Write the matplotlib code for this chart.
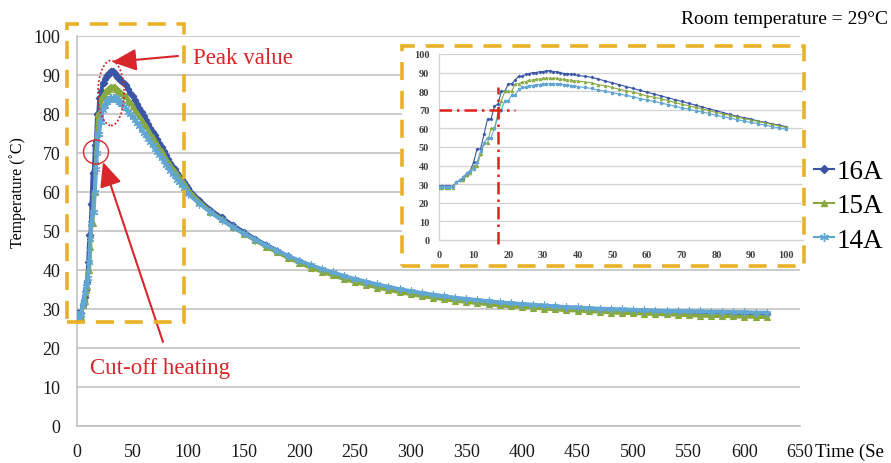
import matplotlib
matplotlib.use("Agg")
import matplotlib.pyplot as plt
from matplotlib.patches import Rectangle, Ellipse
from matplotlib.lines import Line2D
from matplotlib.transforms import IdentityTransform

# ---------------- data ----------------
time_s = (list(range(0, 41)) + list(range(42, 101, 2)) + list(range(110, 621, 10)))

temp_16A = [29, 29, 29, 29, 29, 31, 32, 33, 35, 37, 42, 49, 49, 57, 65, 65, 72, 73, 80, 80,
            84, 84, 86, 88, 88, 89, 89.5, 90, 90, 90.5, 90.5, 91, 91, 90.5, 90.5, 90, 89.5, 89.5, 89, 89, 88.5,
            88, 87.5, 86.5, 85.5, 84.5, 83.5, 82.5, 81.5, 80.5, 79.5, 78.5, 77.5, 76.5, 75.5, 74.5,
            73.5, 72.5, 71.5, 70.5, 69.5, 68.5, 67.5, 66.5, 65.8, 65, 64, 63.3, 62.5, 61.8, 61,
            58, 55.5, 53.5, 51.5, 49.8, 48, 46.5, 45, 43.5, 42.2, 41, 40, 39, 38.2, 37.4, 36.7,
            36, 35.4, 34.8, 34.3, 33.8, 33.4, 33, 32.6, 32.3, 32, 31.7, 31.4, 31.2, 31, 30.8, 30.6,
            30.4, 30.2, 30.1, 30, 29.8, 29.7, 29.6, 29.5, 29.4, 29.3, 29.2, 29.1, 29, 29, 28.9,
            28.8, 28.8, 28.7, 28.7, 28.6]

temp_15A = [28, 28, 28, 28, 28, 31, 32, 32, 35, 36, 40, 40, 46, 52, 52, 60, 60, 68, 75, 80,
            80, 80, 84, 84, 85, 85, 86, 86, 86.5, 86.5, 87, 87, 87, 87, 87, 86.5, 86.5, 86, 86, 85.5, 85.5,
            85, 84.5, 83.5, 83, 82, 81, 80.3, 79.5, 78.5, 77.5, 76.8, 76, 75, 74, 73,
            72.2, 71.3, 70.5, 69.5, 68.5, 67.8, 67, 66, 65.3, 64.5, 63.8, 63, 62.2, 61.5, 60.5,
            57.5, 55, 53, 51, 49.3, 47.6, 46, 44.5, 43.1, 41.8, 40.6, 39.6, 38.6, 37.7, 36.9, 36.2,
            35.5, 34.9, 34.3, 33.8, 33.3, 32.9, 32.5, 32.1, 31.8, 31.5, 31.2, 30.9, 30.7, 30.5, 30.3, 30.1,
            29.9, 29.7, 29.6, 29.4, 29.3, 29.1, 29, 28.9, 28.8, 28.7, 28.6, 28.5, 28.4, 28.3, 28.2,
            28.2, 28.1, 28, 28, 27.9]

temp_14A = [28.5, 28.5, 28.5, 28.5, 28.5, 31, 32, 34, 36, 37, 38, 42, 48, 52, 55, 55, 60, 66, 70, 75,
            75, 78, 78, 81, 82, 82, 83, 83, 83.5, 83.5, 84, 84, 84, 84, 84, 84, 83.5, 83.5, 83, 83, 82.5,
            82, 81.5, 80.5, 80, 79.2, 78.5, 77.8, 77, 76, 75.2, 74.5, 73.7, 72.8, 72, 71,
            70.3, 69.5, 68.8, 68, 67, 66.3, 65.5, 64.7, 64, 63.2, 62.5, 61.8, 61, 60.3, 59.5,
            57, 54.8, 52.8, 51, 49.4, 47.8, 46.3, 44.9, 43.6, 42.4, 41.3, 40.3, 39.4, 38.5, 37.7, 37,
            36.3, 35.7, 35.1, 34.6, 34.1, 33.7, 33.3, 32.9, 32.6, 32.3, 32, 31.7, 31.5, 31.3, 31.1, 30.9,
            30.7, 30.5, 30.4, 30.2, 30.1, 30, 29.9, 29.8, 29.7, 29.6, 29.5, 29.5, 29.4, 29.4, 29.3,
            29.3, 29.2, 29.2, 29.1, 29.1]

series_labels = ["16A", "15A", "14A"]
main_xticks = list(range(0, 651, 50))
main_yticks = list(range(0, 101, 10))
inset_xticks = list(range(0, 101, 10))
inset_yticks = list(range(0, 101, 10))
cutoff_time = 17
cutoff_temp = 70

# ---------------- style ----------------
plt.rcParams['font.family'] = ['Liberation Serif', 'DejaVu Serif']
W, H = 891, 464
RED = '#D9262B'
ORANGE = '#E8B128'
colors = ['#3A55A6', '#87A93F', '#62A6D3']
markers = ['D', '^', (6, 2, 0)]
msizes = [3.4, 4.4, 5.8]

fig = plt.figure(figsize=(W / 100, H / 100), dpi=100)

# ---------------- main axes ----------------
ax = fig.add_axes([77 / W, 37 / H, 723 / W, 390 / H])
series = [temp_16A, temp_15A, temp_14A]
for vals, c, m, ms, lab in zip(series, colors, markers, msizes, series_labels):
    ax.plot(time_s, vals, color=c, lw=2.8, marker=m, ms=ms, mec=c, mfc=c, mew=0.8,
            label=lab, zorder=3)
ax.set_xlim(0, 650)
ax.set_ylim(0, 100)
ax.set_xticks(main_xticks)
ax.set_yticks(main_yticks)
ax.grid(axis='y', color='#BDBDBD', lw=1.1)
ax.set_axisbelow(True)
for s in ['top', 'right']:
    ax.spines[s].set_visible(False)
for s in ['left', 'bottom']:
    ax.spines[s].set_color('#BDBDBD')
    ax.spines[s].set_linewidth(1.1)
ax.tick_params(axis='both', length=0, labelsize=13, colors='#1a1a1a')
ax.tick_params(axis='y', pad=12)
ax.tick_params(axis='x', pad=12)
fig.text(18 / W, 1 - 193 / H, 'Temperature (˚C)', rotation=90, ha='center', va='center',
         fontsize=11.5)
fig.text(815 / W, 1 - 452 / H, 'Time (Se', ha='left', va='center', fontsize=13.5)
fig.text(888 / W, 1 - 20 / H, 'Room temperature = 29°C', ha='right', va='center', fontsize=14)

# peak-region dashed box
fig.add_artist(Rectangle((67 / W, 1 - 323 / H), 117 / W, 298 / H, transform=fig.transFigure,
                         facecolor='none', edgecolor=ORANGE, lw=2.6, ls=(0, (5, 3)), zorder=4))

# annotations
fig.add_artist(Ellipse((111, H - 94), 26, 65, transform=IdentityTransform(), facecolor='none',
                       edgecolor=RED, lw=1.3, ls=(0, (1, 1.2)), zorder=5))
fig.add_artist(Ellipse((96, H - 153), 25, 24, transform=IdentityTransform(), facecolor='none',
                       edgecolor=RED, lw=1.0, zorder=5))
ax.annotate('', xy=(112, H - 63), xytext=(178, H - 57), xycoords='figure pixels',
            textcoords='figure pixels',
            arrowprops=dict(arrowstyle='-|>,head_length=1.0,head_width=0.45', mutation_scale=15,
                            color=RED, lw=1.5, shrinkA=0, shrinkB=0), annotation_clip=False)
ax.annotate('', xy=(103, H - 163), xytext=(163, H - 343), xycoords='figure pixels',
            textcoords='figure pixels',
            arrowprops=dict(arrowstyle='-|>,head_length=1.0,head_width=0.45', mutation_scale=15,
                            color=RED, lw=1.5, shrinkA=0, shrinkB=0), annotation_clip=False)
fig.text(193 / W, 1 - 58 / H, 'Peak value', color=RED, fontsize=16.5, ha='left', va='center')
fig.text(160 / W, 1 - 369 / H, 'Cut-off heating', color=RED, fontsize=16.5, ha='center',
         va='center')

# ---------------- inset ----------------
fig.add_artist(Rectangle((402 / W, 1 - 267 / H), 402 / W, 220 / H, transform=fig.transFigure,
                         facecolor='white', edgecolor=ORANGE, lw=2.6, ls=(0, (5, 3)), zorder=1))
ax2 = fig.add_axes([439 / W, 1 - 241 / H, 364 / W, 186 / H], zorder=2)
ax2.patch.set_alpha(0)
n_in = sum(1 for t in time_s if t <= 100)
for vals, c, m, ms in zip(series, colors, markers, msizes):
    ax2.plot(time_s[:n_in], vals[:n_in], color=c, lw=0.8, marker=m, ms=ms * 0.45, mec=c, mfc=c,
             mew=0.5, zorder=3)
ax2.set_xlim(0, 105)
ax2.set_ylim(0, 100)
ax2.set_xticks(inset_xticks)
ax2.set_yticks(inset_yticks)
ax2.grid(axis='y', color='#D3D3D3', lw=0.9)
ax2.set_axisbelow(True)
for s in ['top', 'right']:
    ax2.spines[s].set_visible(False)
for s in ['left', 'bottom']:
    ax2.spines[s].set_color('#D3D3D3')
    ax2.spines[s].set_linewidth(0.9)
ax2.tick_params(axis='both', length=0, labelsize=7.5, colors='#404040', pad=7)
for lbl in ax2.get_xticklabels() + ax2.get_yticklabels():
    lbl.set_fontweight('bold')
ax2.hlines(cutoff_temp, 0, 22, colors='#E0201B', linestyles=(0, (5, 2, 1, 2)), lw=1.8, zorder=4)
ax2.vlines(cutoff_time, -2, 82, colors='#E0201B', linestyles=(0, (5, 2, 1, 2)), lw=1.8,
           zorder=4, clip_on=False)

# legend
handles = [Line2D([0], [0], color=c, lw=1.5, marker=m, ms=ms * 1.1, mec=c, mfc=c)
           for c, m, ms in zip(colors, markers, msizes)]
fig.legend(handles, series_labels, loc='center left', bbox_to_anchor=(814 / W, 1 - 207 / H),
           frameon=False, fontsize=19.5, handlelength=0.75, handletextpad=0.1,
           labelspacing=0.34, borderpad=0, borderaxespad=0)

fig.savefig('out.png', dpi=100)
